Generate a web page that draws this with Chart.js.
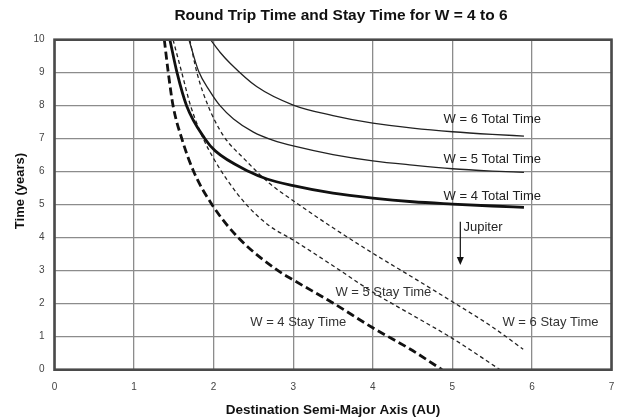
<!DOCTYPE html>
<html>
<head>
<meta charset="utf-8">
<script src="https://cdn.jsdelivr.net/npm/chart.js@4.4.1/dist/chart.umd.min.js"></script>
<style>
  html, body { margin: 0; padding: 0; background: #ffffff; }
  #wrap { width: 623px; height: 420px; }
</style>
</head>
<body>
<div id="wrap"><canvas id="chart" width="623" height="420"></canvas></div>
<script>
// ---- Data ----
const xTickValues = [0, 1, 2, 3, 4, 5, 6, 7];
const yTickValues = [0, 1, 2, 3, 4, 5, 6, 7, 8, 9, 10];

const w4TotalX = [1.45, 1.54, 1.66, 1.89, 2.02, 2.45, 2.67, 3.0, 3.5, 4.0, 4.5, 5.0, 5.5, 5.9];
const w4TotalY = [10, 9, 8, 7, 6.63, 6.0, 5.78, 5.58, 5.35, 5.2, 5.09, 5.02, 4.96, 4.92];

const w5TotalX = [1.69, 1.81, 1.95, 2.08, 2.25, 2.5, 2.75, 3.0, 3.5, 4.0, 4.5, 5.0, 5.5, 5.9];
const w5TotalY = [10, 9.05, 8.45, 8.0, 7.6, 7.2, 6.95, 6.78, 6.52, 6.33, 6.2, 6.09, 6.02, 5.98];

const w6TotalX = [1.96, 2.08, 2.21, 2.54, 3.0, 3.5, 4.0, 4.5, 5.0, 5.5, 5.9];
const w6TotalY = [10, 9.62, 9.28, 8.58, 8.02, 7.7, 7.47, 7.32, 7.21, 7.13, 7.08];

const w4StayX = [1.38, 1.43, 1.49, 1.60, 1.75, 1.98, 2.31, 2.81, 3.0, 3.5, 4.0, 4.5, 4.87];
const w4StayY = [10, 9, 8, 7, 6, 5, 4, 3, 2.72, 2.02, 1.27, 0.58, 0];

const w5StayX = [1.49, 1.60, 1.71, 1.87, 2.0, 2.17, 2.42, 2.7, 3.0, 3.5, 4.0, 4.5, 5.0, 5.6];
const w5StayY = [10, 9, 8, 7, 6.4, 5.75, 4.98, 4.36, 3.93, 3.15, 2.35, 1.65, 0.95, 0];

const w6StayX = [1.70, 1.79, 1.93, 2.12, 2.4, 2.7, 3.0, 3.5, 4.0, 4.5, 5.0, 5.5, 5.89];
const w6StayY = [10, 9, 8, 7.1, 6.35, 5.65, 5.12, 4.3, 3.53, 2.8, 2.06, 1.3, 0.62];

const seriesNames = ['W = 4 Total Time', 'W = 5 Total Time', 'W = 6 Total Time',
                     'W = 4 Stay Time', 'W = 5 Stay Time', 'W = 6 Stay Time'];
const jupiterLabel = 'Jupiter';
const chartTitle = 'Round Trip Time and Stay Time for W = 4 to 6';
const xAxisTitle = 'Destination Semi-Major Axis (AU)';
const yAxisTitle = 'Time (years)';

function pts(xs, ys) { return xs.map((x, i) => ({ x: x, y: ys[i] })); }

// ---- Annotation placement (data coordinates) ----
const labelSpots = [
  { text: seriesNames[2], x: 4.89, y: 7.57, color: '#222' },
  { text: seriesNames[1], x: 4.89, y: 6.38, color: '#222' },
  { text: seriesNames[0], x: 4.89, y: 5.24, color: '#222' },
  { text: jupiterLabel,   x: 5.14, y: 4.32, color: '#222' },
  { text: seriesNames[3], x: 2.46, y: 1.42, color: '#333' },
  { text: seriesNames[4], x: 3.53, y: 2.33, color: '#333' },
  { text: seriesNames[5], x: 5.63, y: 1.42, color: '#333' }
];
const jupiterArrow = { x: 5.10, yFrom: 4.48, yTo: 3.17 };

const FONT = "'Liberation Sans', Arial, Helvetica, sans-serif";

const overlay = {
  id: 'overlay',
  afterDatasetsDraw(chart) {
    const { ctx, chartArea: a, scales: { x, y } } = chart;
    ctx.save();
    // plot frame
    ctx.strokeStyle = '#4a4a4a';
    ctx.lineWidth = 2.6;
    ctx.strokeRect(a.left, a.top, a.right - a.left, a.bottom - a.top);
    // labels
    ctx.font = '13px ' + FONT;
    ctx.textAlign = 'left';
    ctx.textBaseline = 'middle';
    labelSpots.forEach(l => {
      ctx.fillStyle = l.color;
      ctx.fillText(l.text, x.getPixelForValue(l.x), y.getPixelForValue(l.y));
    });
    // Jupiter arrow
    const ax = x.getPixelForValue(jupiterArrow.x);
    const y1 = y.getPixelForValue(jupiterArrow.yFrom);
    const y2 = y.getPixelForValue(jupiterArrow.yTo);
    ctx.strokeStyle = '#111';
    ctx.lineWidth = 1.2;
    ctx.beginPath();
    ctx.moveTo(ax, y1);
    ctx.lineTo(ax, y2 - 6);
    ctx.stroke();
    ctx.fillStyle = '#111';
    ctx.beginPath();
    ctx.moveTo(ax - 3.5, y2 - 8);
    ctx.lineTo(ax + 3.5, y2 - 8);
    ctx.lineTo(ax, y2);
    ctx.closePath();
    ctx.fill();
    // chart title
    ctx.fillStyle = '#111';
    ctx.textAlign = 'center';
    ctx.font = 'bold 15.5px ' + FONT;
    ctx.fillText(chartTitle, 341, 16);
    // y axis title
    ctx.font = 'bold 13px ' + FONT;
    ctx.translate(20, 191);
    ctx.rotate(-Math.PI / 2);
    ctx.fillText(yAxisTitle, 0, 0);
    ctx.restore();
  }
};

function ds(label, xs, ys, width, dash, color) {
  return {
    label: label,
    data: pts(xs, ys),
    showLine: true,
    borderColor: color,
    borderWidth: width,
    borderDash: dash,
    pointRadius: 0,
    pointHoverRadius: 0,
    fill: false,
    cubicInterpolationMode: 'monotone',
    tension: 0.4
  };
}

new Chart(document.getElementById('chart'), {
  type: 'scatter',
  data: {
    datasets: [
      ds(seriesNames[0], w4TotalX, w4TotalY, 2.8, [], '#111'),
      ds(seriesNames[1], w5TotalX, w5TotalY, 1.3, [], '#222'),
      ds(seriesNames[2], w6TotalX, w6TotalY, 1.3, [], '#222'),
      ds(seriesNames[3], w4StayX, w4StayY, 2.8, [8, 4], '#111'),
      ds(seriesNames[4], w5StayX, w5StayY, 1.3, [4, 3], '#222'),
      ds(seriesNames[5], w6StayX, w6StayY, 1.3, [4, 3], '#222')
    ]
  },
  options: {
    responsive: false,
    animation: false,
    devicePixelRatio: 1,
    layout: { padding: { left: 0, right: 0, top: 39.7, bottom: 0 } },
    plugins: {
      legend: { display: false },
      tooltip: { enabled: false },
      title: { display: false }
    },
    scales: {
      x: {
        type: 'linear',
        min: 0, max: 7,
        afterBuildTicks: s => { s.ticks = xTickValues.map(v => ({ value: v })); },
        afterFit: s => { s.height = 50.3; s.paddingLeft = 0; s.paddingRight = 11.5; },
        ticks: { color: '#444', font: { family: FONT, size: 10 }, padding: 12 },
        grid: { color: '#8c8c8c', lineWidth: 1.3, drawTicks: false },
        border: { display: false },
        title: {
          display: true,
          text: xAxisTitle,
          color: '#111',
          font: { family: FONT, size: 13.5, weight: 'bold' },
          padding: { top: 0, bottom: 1.9 }
        }
      },
      y: {
        type: 'linear',
        min: 0, max: 10,
        afterBuildTicks: s => { s.ticks = yTickValues.map(v => ({ value: v })); },
        afterFit: s => { s.width = 54.5; s.paddingTop = 0; s.paddingBottom = 0; },
        ticks: { color: '#444', font: { family: FONT, size: 10 }, padding: 10 },
        grid: { color: '#8c8c8c', lineWidth: 1.3, drawTicks: false },
        border: { display: false },
        title: { display: false }
      }
    }
  },
  plugins: [overlay]
});
</script>
</body>
</html>
